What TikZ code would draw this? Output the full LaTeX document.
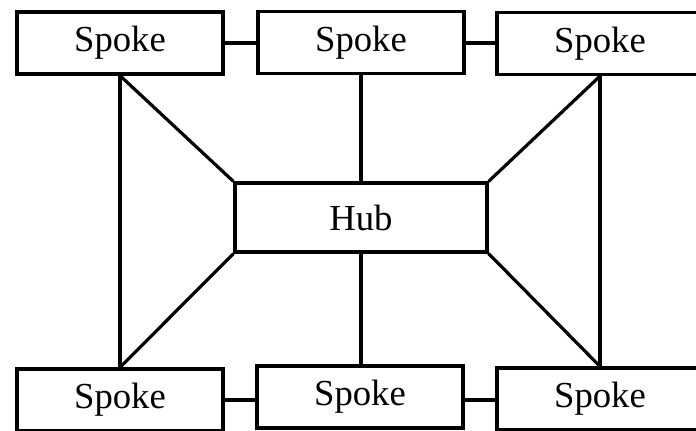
\documentclass[tikz,border=0pt]{standalone}
\usepackage{fontspec}
\setmainfont{Liberation Serif}
\begin{document}
\begin{tikzpicture}[x=0.75pt,y=-0.75pt,
  box/.style={draw=black,line width=2.4pt,fill=white,inner sep=0pt,
    minimum width=154.5pt,minimum height=46.5pt,
    font=\fontsize{27.5}{32}\selectfont},
  link/.style={draw=black,line width=2.4pt}]
\useasboundingbox (0,0) rectangle (696,430);
\clip (0,0) rectangle (696,430);
\fill[white] (0,0) rectangle (696,430);
% nodes
\node[box] (tl) at (120,43) {Spoke};
\node[box] (tm) at (361,42.5) {Spoke};
\node[box] (tr) at (600,43.5) {Spoke};
\node[box,minimum width=189pt,minimum height=51.75pt] (hub) at (361,217.5) {Hub};
\node[box] (bl) at (120,400) {Spoke};
\node[box] (bm) at (360,397) {Spoke};
\node[box] (br) at (600,399) {Spoke};
% connectors
\draw[link] (tl.east) -- (tl.east -| tm.west);
\draw[link] (tl.east -| tm.east) -- (tl.east -| tr.west);
\draw[link] (bl.east) -- (bl.east -| bm.west);
\draw[link] (bl.east -| bm.east) -- (bl.east -| br.west);
\draw[link] (tl.south) -- (bl.north);
\draw[link] (tr.south) -- (br.north);
\draw[link] (tm.south) -- (hub.north);
\draw[link] (hub.south) -- (hub.south |- bm.north);
\draw[link] (tl.south) -- (hub.north west);
\draw[link] (hub.south west) -- (bl.north);
\draw[link] (tr.south) -- (hub.north east);
\draw[link] (hub.south east) -- (br.north);
\end{tikzpicture}
\end{document}
